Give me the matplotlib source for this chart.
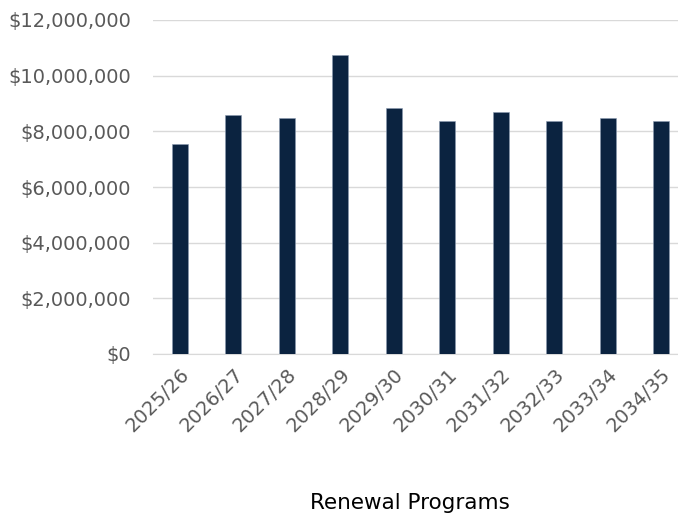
import matplotlib
matplotlib.use("Agg")
import matplotlib.pyplot as plt
from matplotlib.ticker import FuncFormatter

categories = ["2025/26", "2026/27", "2027/28", "2028/29", "2029/30",
              "2030/31", "2031/32", "2032/33", "2033/34", "2034/35"]
values = [7540000, 8580000, 8490000, 10740000, 8830000,
          8370000, 8700000, 8370000, 8490000, 8370000]
y_ticks = [0, 2000000, 4000000, 6000000, 8000000, 10000000, 12000000]
x_title = "Renewal Programs"

fig = plt.figure(figsize=(6.78, 5.15), dpi=100)
ax = fig.add_axes([153/678, (515-354)/515, (688-153)/678, (354-20)/515])

x = range(len(categories))
ax.bar(x, values, width=0.3, color="#0b2340", edgecolor="#8a9ab0", linewidth=0.4, zorder=3)

ax.set_xlim(-0.5, len(categories) - 0.5)
ax.set_ylim(0, 12000000)
ax.set_yticks(y_ticks)
ax.yaxis.set_major_formatter(FuncFormatter(lambda v, p: "$0" if v == 0 else "${:,.0f}".format(v)))
ax.grid(axis="y", color="#d9d9d9", linewidth=1, zorder=0)
ax.set_xticks(list(x))
ax.set_xticklabels(categories, rotation=45, ha="right", rotation_mode="anchor")

for s in ["top", "right", "left"]:
    ax.spines[s].set_visible(False)
ax.spines["bottom"].set_color("#d9d9d9")
ax.tick_params(axis="both", length=0, colors="#595959", labelsize=14)
ax.tick_params(axis="y", pad=16)
ax.tick_params(axis="x", pad=8)

fig.text(410/678, 1 - 503/515, x_title, ha="center", va="center", fontsize=15.5, color="black")

fig.savefig("out.png", dpi=100)
